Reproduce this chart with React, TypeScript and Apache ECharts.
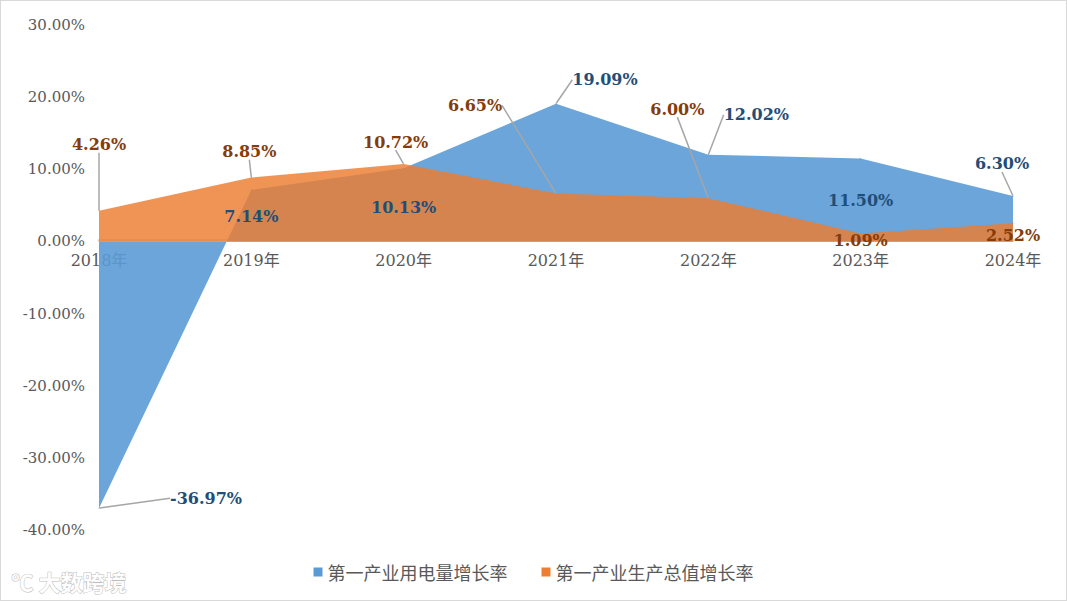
import React, { useEffect, useRef } from "react";
import * as echarts from "echarts";

const categories = ["2018年", "2019年", "2020年", "2021年", "2022年", "2023年", "2024年"];
const electricityGrowth = [-36.97, 7.14, 10.13, 19.09, 12.02, 11.5, 6.3];
const outputGrowth = [4.26, 8.85, 10.72, 6.65, 6.0, 1.09, 2.52];
const seriesNames = ["第一产业用电量增长率", "第一产业生产总值增长率"];

// label offsets (pixels) from each point, [dx, dy]
const blueLabelOffsets = [[107, -10], [0, 27], [0, 39], [49, -24], [48, -40], [0, 42], [-11, -32]];
const orangeLabelOffsets = [[0, -66], [-2, -26], [-8, -22], [-81, -88], [-31, -89], [0, 7], [0, 12]];
const blueLeaderLines = [true, false, false, true, true, false, true];
const orangeLeaderLines = [true, true, true, true, true, false, false];

const serif = "'DejaVu Serif', 'Liberation Serif', 'Noto Sans CJK SC', serif";
const legendFont = "'Noto Sans CJK SC', sans-serif";

export default function App() {
  const ref = useRef<HTMLDivElement>(null);
  useEffect(() => {
    if (!ref.current) return;
    const chart = echarts.init(ref.current, null, { renderer: "svg" });
    const fmt = (p: any) => Number(p.value).toFixed(2) + "%";
    const leaderStyle = { color: "#a6a6a6", width: 1.5 };
    const mkData = (vals: number[], lines: boolean[]) =>
      vals.map((v, i) => ({ value: v, labelLine: { show: lines[i] } }));
    chart.setOption({
      animation: false,
      backgroundColor: "#ffffff",
      grid: { left: 98, right: 53, top: 24, bottom: 70 },
      legend: {
        bottom: 14,
        left: "center",
        itemGap: 34,
        icon: "rect",
        itemWidth: 9,
        itemHeight: 9,
        textStyle: { color: "#595959", fontSize: 18, fontFamily: legendFont },
        data: seriesNames,
      },
      xAxis: {
        type: "category",
        data: categories,
        boundaryGap: false,
        offset: -290,
        axisLine: { onZero: false, lineStyle: { color: "#d9d9d9", width: 3 } },
        axisTick: { show: false },
        axisLabel: { color: "#595959", fontSize: 16, fontFamily: serif, margin: 12 },
        splitLine: { show: false },
      },
      yAxis: {
        type: "value",
        min: -40,
        max: 30,
        interval: 10,
        axisLine: { show: false },
        axisTick: { show: false },
        splitLine: { show: false },
        axisLabel: {
          color: "#595959",
          fontSize: 15,
          fontFamily: serif,
          margin: 14,
          formatter: (v: number) => v.toFixed(2) + "%",
        },
      },
      series: [
        {
          name: seriesNames[0],
          type: "line",
          data: electricityGrowth,
          symbol: "none",
          itemStyle: { color: "#5b9bd5" },
          lineStyle: { width: 0 },
          areaStyle: { color: "#5b9bd5", opacity: 0.9 },
          z: 2,
        },
        {
          name: seriesNames[1],
          type: "line",
          data: mkData(outputGrowth, orangeLeaderLines),
          symbol: "circle",
          symbolSize: 1,
          itemStyle: { color: "#ed7d31" },
          lineStyle: { width: 0 },
          areaStyle: { color: "#ed7d31", opacity: 0.82 },
          label: {
            show: true,
            position: "inside",
            formatter: fmt,
            color: "#843c0c",
            fontSize: 16,
            fontWeight: "bold",
            fontFamily: serif,
          },
          labelLine: { show: true, lineStyle: leaderStyle },
          labelLayout: (p: any) => ({ dx: orangeLabelOffsets[p.dataIndex][0], dy: orangeLabelOffsets[p.dataIndex][1] }),
          z: 3,
        },
        {
          name: seriesNames[0],
          type: "line",
          data: mkData(electricityGrowth, blueLeaderLines),
          symbol: "circle",
          symbolSize: 1,
          itemStyle: { color: "#5b9bd5" },
          lineStyle: { width: 0, opacity: 0 },
          label: {
            show: true,
            position: "inside",
            formatter: fmt,
            color: "#1f4e79",
            fontSize: 16,
            fontWeight: "bold",
            fontFamily: serif,
          },
          labelLine: { show: true, lineStyle: leaderStyle },
          labelLayout: (p: any) => ({ dx: blueLabelOffsets[p.dataIndex][0], dy: blueLabelOffsets[p.dataIndex][1] }),
          z: 4,
        },
      ],
      graphic: [
        {
          type: "text",
          left: 10,
          bottom: 8,
          style: {
            text: "℃ 大数跨境",
            fill: "rgba(255,255,255,0.95)",
            stroke: "rgba(160,160,160,0.7)",
            lineWidth: 1,
            fontSize: 22,
            fontWeight: "bold",
            fontFamily: "'Noto Sans CJK SC', sans-serif",
          },
        },
      ],
    });
    return () => chart.dispose();
  }, []);
  return (
    <div
      style={{
        position: "fixed",
        left: 0,
        top: 0,
        width: 1067,
        height: 601,
        boxSizing: "border-box",
        border: "1px solid #d9d9d9",
        background: "#fff",
      }}
    >
      <div ref={ref} style={{ width: "100%", height: "100%" }} />
    </div>
  );
}
